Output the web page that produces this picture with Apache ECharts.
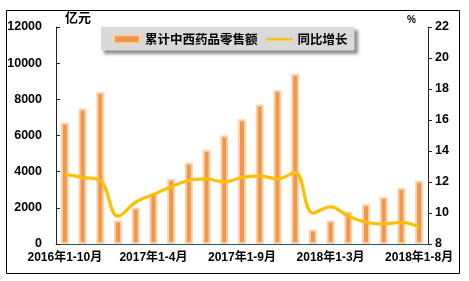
<!DOCTYPE html>
<html><head><meta charset="utf-8">
<script src="https://cdn.jsdelivr.net/npm/echarts@6/dist/echarts.min.js"></script>
<style>html,body{margin:0;padding:0;background:#fff}#c{width:469px;height:281px}</style>
</head><body><div id="c"></div>
<script>
var categories = ['2016年1-10月','2016年1-11月','2016年1-12月',
 '2017年1-2月','2017年1-3月','2017年1-4月','2017年1-5月','2017年1-6月','2017年1-7月','2017年1-8月','2017年1-9月','2017年1-10月','2017年1-11月','2017年1-12月',
 '2018年1-2月','2018年1-3月','2018年1-4月','2018年1-5月','2018年1-6月','2018年1-7月','2018年1-8月'];
var salesValues = [6700,7500,8400,1300,2000,2800,3600,4500,5200,6000,6900,7700,8500,9400,800,1300,1800,2200,2600,3100,3500];
var growthValues = [12.5,12.3,12.1,9.8,10.7,11.2,11.7,12.1,12.2,12.0,12.3,12.4,12.2,12.6,10.0,10.4,9.8,9.4,9.3,9.4,9.1];
var leftTicks = [0,12000,2000];
var rightTicks = [8,22,2];

var FF = '"Liberation Sans", Arial, "Noto Sans CJK SC", sans-serif';
var chart = echarts.init(document.getElementById('c'));
chart.setOption({
  animation:false,
  backgroundColor:'#fff',
  graphic:[
    {type:'rect',shape:{x:6.5,y:10.5,width:453,height:263},style:{fill:'none',stroke:'#000',lineWidth:1},z:0},
    {type:'text',left:65,top:11,style:{text:'亿元',font:'bold 13px "Noto Sans CJK SC", sans-serif',fill:'#000'}},
    {type:'text',left:407,top:15,style:{text:'%',font:'bold 10px "Liberation Sans", Arial, sans-serif',fill:'#000'}}
  ],
  legend:{
    left:101, top:27,
    backgroundColor:'#D9D9D9',
    shadowColor:'rgba(0,0,0,0.45)', shadowBlur:3, shadowOffsetX:3, shadowOffsetY:3,
    padding:[6,7,5,12],
    itemWidth:26, itemHeight:8, itemGap:9,
    textStyle:{fontFamily:'"Noto Sans CJK SC", sans-serif',fontWeight:'bold',fontSize:12.5,color:'#000'},
    data:[{name:'累计中西药品零售额',icon:'rect',itemStyle:{color:'#F2964C',borderColor:'#FAD3AE',borderWidth:2}},
          {name:'同比增长',icon:'path://M0,4L26,4L26,6.5L0,6.5Z'}]
  },
  grid:{left:56,right:41,top:27,bottom:37},
  xAxis:{
    type:'category', data:categories,
    axisLine:{lineStyle:{color:'#2E5866',width:1}},
    axisTick:{inside:true,length:3,interval:0,lineStyle:{color:'#2E5866'}},
    axisLabel:{interval:4,margin:8,fontFamily:FF,fontWeight:'bold',fontSize:12,color:'#000'}
  },
  yAxis:[
    {type:'value',min:leftTicks[0],max:leftTicks[1],interval:leftTicks[2],
     splitLine:{show:false},
     axisLine:{show:true,lineStyle:{color:'#222'}},
     axisTick:{show:true,inside:true,length:4,lineStyle:{color:'#222'}},
     axisLabel:{margin:14,fontFamily:FF,fontWeight:'bold',fontSize:12.5,color:'#000',formatter:function(v){return String(v);}}},
    {type:'value',min:rightTicks[0],max:rightTicks[1],interval:rightTicks[2],position:'right',
     splitLine:{show:false},
     axisLine:{show:true,lineStyle:{color:'#222'}},
     axisTick:{show:true,inside:false,length:4,lineStyle:{color:'#222'}},
     axisLabel:{margin:7,fontFamily:FF,fontWeight:'bold',fontSize:12.5,color:'#000'}}
  ],
  series:[
    {name:'累计中西药品零售额',type:'bar',data:salesValues,barWidth:8,
     itemStyle:{color:'#F2964C',borderColor:'#FAD3AE',borderWidth:2}},
    {name:'同比增长',type:'line',yAxisIndex:1,data:growthValues,smooth:0.4,
     showSymbol:false,symbol:'none',
     lineStyle:{color:'#FFC000',width:3.2},itemStyle:{color:'#FFC000'},z:5}
  ]
});
</script></body></html>
